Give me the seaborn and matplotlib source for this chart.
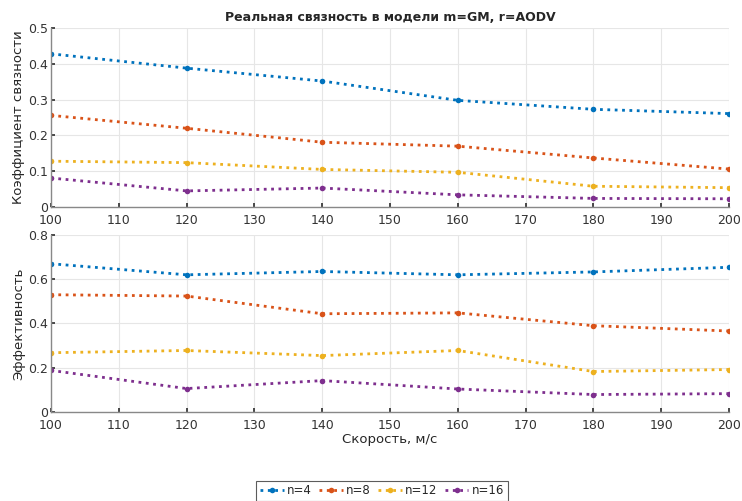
import numpy as np
import pandas as pd
import matplotlib
matplotlib.use("Agg")
import matplotlib.pyplot as plt
import seaborn as sns

speeds = [100, 120, 140, 160, 180, 200]
series_names = ["n=4", "n=8", "n=12", "n=16"]
conn_n4 = [0.428, 0.388, 0.352, 0.298, 0.273, 0.261]
conn_n8 = [0.256, 0.220, 0.181, 0.170, 0.137, 0.106]
conn_n12 = [0.128, 0.124, 0.105, 0.097, 0.058, 0.054]
conn_n16 = [0.081, 0.045, 0.053, 0.034, 0.024, 0.023]
eff_n4 = [0.670, 0.620, 0.635, 0.620, 0.633, 0.654]
eff_n8 = [0.530, 0.524, 0.444, 0.448, 0.390, 0.366]
eff_n12 = [0.268, 0.278, 0.255, 0.278, 0.183, 0.192]
eff_n16 = [0.188, 0.106, 0.142, 0.104, 0.079, 0.083]

title = "Реальная связность в модели m=GM, r=AODV"
ylabel_top = "Коэффициент связности"
ylabel_bot = "Эффективность"
xlabel = "Скорость, м/с"

colors = ["#0072BD", "#D95319", "#EDB120", "#7E2F8E"]

def make_df(vals):
    rows = []
    for name, v in zip(series_names, vals):
        for s, y in zip(speeds, v):
            rows.append({"speed": s, "value": y, "series": name})
    return pd.DataFrame(rows)

df_top = make_df([conn_n4, conn_n8, conn_n12, conn_n16])
df_bot = make_df([eff_n4, eff_n8, eff_n12, eff_n16])

sns.set_theme(style="whitegrid")
plt.rcParams['font.family'] = ['DejaVu Sans']

fig = plt.figure(figsize=(7.42, 5.01), dpi=100)
ax1 = fig.add_axes([0.0687, 0.5868, 0.9138, 0.3572])
ax2 = fig.add_axes([0.0687, 0.1776, 0.9138, 0.3534])

palette = dict(zip(series_names, colors))
for ax, df in [(ax1, df_top), (ax2, df_bot)]:
    sns.lineplot(data=df, x="speed", y="value", hue="series", palette=palette,
                 hue_order=series_names, ax=ax, linestyle=":", linewidth=2.0,
                 marker="o", markersize=4, markeredgewidth=0, legend=(ax is ax2))
    ax.set_xlim(100, 200)
    ax.set_xticks(np.arange(100, 201, 10))
    ax.grid(True, color="#e6e6e6", linewidth=0.8)
    for sp in ["top", "right"]:
        ax.spines[sp].set_visible(False)
    for sp in ["left", "bottom"]:
        ax.spines[sp].set_color("#888888")
        ax.spines[sp].set_linewidth(1.0)
    ax.tick_params(axis="both", labelsize=9, colors="#333333", length=3,
                   direction="in", left=True, bottom=True)
    ax.tick_params(axis="x", pad=5)
    ax.tick_params(axis="y", pad=2)
    ax.set_facecolor("white")

ax1.set_ylim(0, 0.5)
ax1.set_yticks([0, 0.1, 0.2, 0.3, 0.4, 0.5])
ax1.set_yticklabels(["0", "0.1", "0.2", "0.3", "0.4", "0.5"])
ax1.set_xlabel("")
ax1.set_ylabel(ylabel_top, fontsize=9.5, color="#262626", labelpad=2)
ax1.set_title(title, fontsize=9, fontweight="bold", pad=5)

ax2.set_ylim(0, 0.8)
ax2.set_yticks([0, 0.2, 0.4, 0.6, 0.8])
ax2.set_yticklabels(["0", "0.2", "0.4", "0.6", "0.8"])
ax2.set_xlabel(xlabel, fontsize=9.5, color="#262626", labelpad=1)
ax2.set_ylabel(ylabel_bot, fontsize=9.5, color="#262626", labelpad=2)

handles, labels = ax2.get_legend_handles_labels()
ax2.get_legend().remove()
leg = fig.legend(handles, labels, loc="center", bbox_to_anchor=(0.515, 0.02),
                 ncol=4, fontsize=8.5, frameon=True, fancybox=False,
                 edgecolor="#333333", handlelength=2.0, handletextpad=0.3,
                 columnspacing=0.6, borderpad=0.3)
leg.get_frame().set_linewidth(0.8)

fig.savefig("out.png", dpi=100, facecolor="white")
